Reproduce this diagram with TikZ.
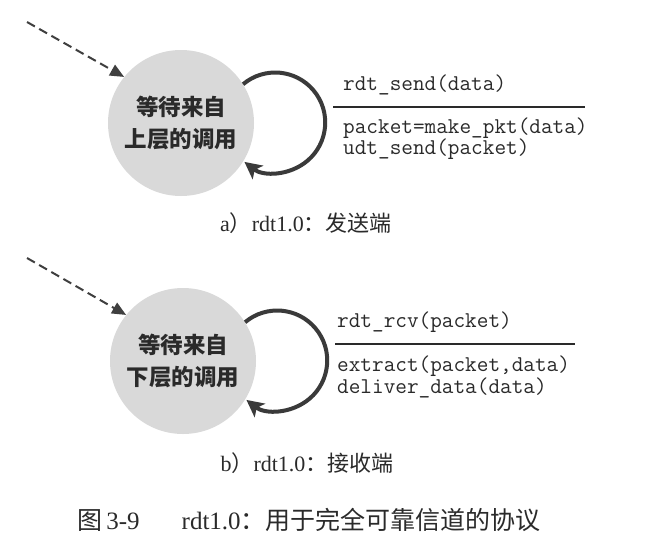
\documentclass[tikz,border=0pt]{standalone}
\usepackage{fontspec}
\setmainfont{Liberation Serif}
\newfontfamily\cjk{Noto Sans CJK SC}
\usetikzlibrary{arrows.meta}
\definecolor{stategray}{HTML}{D9D9D9}
\definecolor{inkgray}{HTML}{2A2A2A}
\definecolor{loopgray}{HTML}{3A3A3A}
\tikzset{
  statenode/.style={circle, fill=stategray, minimum size=146pt, inner sep=0pt,
    align=center, text=inkgray, font=\cjk\bfseries\fontsize{22.5}{32}\selectfont},
  dasharrow/.style={draw=inkgray!90, line width=2pt, dash pattern=on 9pt off 5pt,
    -{Triangle[length=14pt,width=12pt]}},
  loopedge/.style={draw=loopgray, line width=4pt,
    -{Stealth[length=17pt,width=17pt,inset=4pt]}},
  codetext/.style={anchor=west, inner sep=0pt, text=inkgray,
    font=\ttfamily\fontsize{22.6}{22}\selectfont},
  sepline/.style={draw=inkgray, line width=1.6pt},
  captext/.style={inner sep=0pt, text=inkgray, font=\fontsize{22}{24}\selectfont},
  figcap/.style={inner sep=0pt, text=inkgray, font=\fontsize{25}{27}\selectfont}
}
\begin{document}
\begin{tikzpicture}[x=1pt,y=-1pt]
\useasboundingbox[fill=white] (0,0) rectangle (664,544);

% ---- a) sender ----
\node[statenode] (c1) at (181,123) {等待来自\\上层的调用};
\coordinate (s1) at (27,22);
\draw[dasharrow] (s1) -- (c1.141);
\draw[loopedge] (c1.32) arc[start angle=-130, end angle=128, radius=50];
\node[codetext] (e1) at (343,85) {rdt\_send(data)};
\coordinate (l1a) at (333,107);
\coordinate (l1b) at (585,107);
\draw[sepline] (l1a) -- (l1b);
\node[codetext] (a1) at (343,128) {packet=make\_pkt(data)};
\node[codetext] (a2) at (343,149) {udt\_send(packet)};
\node[captext] (cap1) at (306,223) {a{\cjk ）}rdt1.0{\cjk ：发送端}};

% ---- b) receiver ----
\node[statenode] (c2) at (183,361) {等待来自\\下层的调用};
\coordinate (s2) at (27,258);
\draw[dasharrow] (s2) -- (c2.141);
\draw[loopedge] (c2.32) arc[start angle=-130, end angle=128, radius=50];
\node[codetext] (e2) at (337,322) {rdt\_rcv(packet)};
\coordinate (l2a) at (335,344);
\coordinate (l2b) at (575,344);
\draw[sepline] (l2a) -- (l2b);
\node[codetext] (b1) at (337,366) {extract(packet,data)};
\node[codetext] (b2) at (337,388) {deliver\_data(data)};
\node[captext] (cap2) at (307,463) {b{\cjk ）}rdt1.0{\cjk ：接收端}};

% ---- figure caption ----
\node[figcap] (fig) at (309,520) {{\cjk 图}\,3-9\hspace{42pt}rdt1.0{\cjk ：用于完全可靠信道的协议}};
\end{tikzpicture}
\end{document}
